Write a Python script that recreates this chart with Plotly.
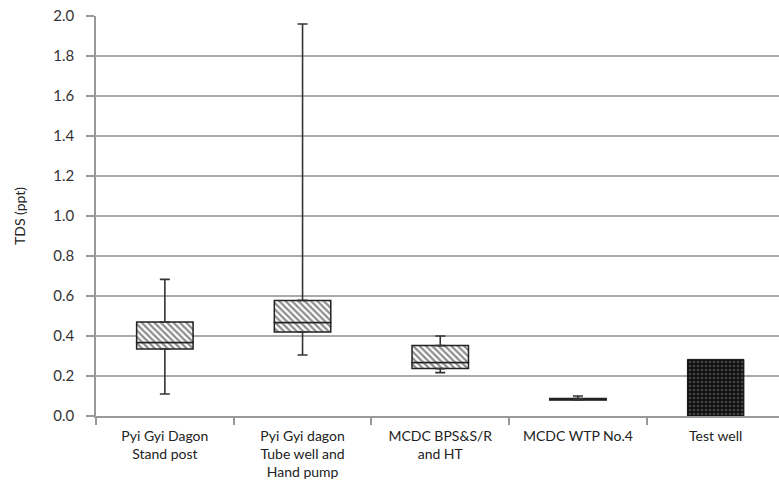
import plotly.graph_objects as go

# Sampling sites (x categories)
sites = [
    "Pyi Gyi Dagon<br>Stand post",
    "Pyi Gyi dagon<br>Tube well and<br>Hand pump",
    "MCDC BPS&S/R<br>and HT",
    "MCDC WTP No.4",
    "Test well",
]

# TDS (ppt) box statistics for the first four sites
box_sites = sites[:4]
tds_min = [0.11, 0.305, 0.217, 0.080]
tds_q1 = [0.335, 0.420, 0.237, 0.080]
tds_median = [0.367, 0.468, 0.267, 0.083]
tds_q3 = [0.470, 0.578, 0.352, 0.087]
tds_max = [0.683, 1.960, 0.400, 0.100]

# Single measurement at the test well
test_site = [sites[4]]
test_tds = [0.283]

hatch = dict(shape="\\", bgcolor="white", fgcolor="#1a1a1a", size=4.5, solidity=0.5)
outline = dict(color="#222", width=1.5)

fig = go.Figure()

# Lower box segment: Q1 -> median
fig.add_bar(
    x=box_sites,
    base=tds_q1,
    y=[m - q for m, q in zip(tds_median, tds_q1)],
    width=0.41,
    marker=dict(color="white", pattern=hatch, line=outline),
    showlegend=False,
)
# Upper box segment: median -> Q3
fig.add_bar(
    x=box_sites,
    base=tds_median,
    y=[q - m for q, m in zip(tds_q3, tds_median)],
    width=0.41,
    marker=dict(color="white", pattern=hatch, line=outline),
    showlegend=False,
)
# Test well column
fig.add_bar(
    x=test_site,
    y=test_tds,
    width=0.41,
    marker=dict(
        color="#111",
        pattern=dict(shape=".", bgcolor="#111", fgcolor="#777", size=4, solidity=0.35),
        line=dict(color="#111", width=1),
    ),
    showlegend=False,
)

# Whiskers: Q3 -> max
fig.add_scatter(
    x=box_sites,
    y=tds_q3,
    mode="markers",
    marker=dict(size=1, color="rgba(0,0,0,0)"),
    error_y=dict(
        type="data", symmetric=False,
        array=[mx - q for mx, q in zip(tds_max, tds_q3)],
        arrayminus=[0] * 4,
        color="#333", thickness=1.6, width=5,
    ),
    showlegend=False,
    hoverinfo="skip",
)
# Whiskers: min -> Q1
fig.add_scatter(
    x=box_sites,
    y=tds_q1,
    mode="markers",
    marker=dict(size=1, color="rgba(0,0,0,0)"),
    error_y=dict(
        type="data", symmetric=False,
        array=[0] * 4,
        arrayminus=[q - mn for q, mn in zip(tds_q1, tds_min)],
        color="#333", thickness=1.6, width=5,
    ),
    showlegend=False,
    hoverinfo="skip",
)

font_family = "Lato, 'Open Sans', sans-serif"

fig.update_layout(
    width=779,
    height=501,
    margin=dict(l=96, r=0, t=16, b=85),
    paper_bgcolor="white",
    plot_bgcolor="white",
    barmode="overlay",
    font=dict(family=font_family, size=14, color="#222"),
)

fig.update_xaxes(
    type="category",
    categoryorder="array",
    categoryarray=sites,
    range=[-0.5, 4.46],
    tickson="boundaries",
    ticks="outside",
    ticklen=7,
    tickcolor="#999",
    tickwidth=1.5,
    ticklabelstandoff=6,
    showline=True,
    linecolor="#999",
    linewidth=1.5,
    showgrid=False,
    tickfont=dict(size=14, color="#222"),
    fixedrange=True,
)

fig.update_yaxes(
    range=[0, 2.0],
    dtick=0.2,
    tickformat=".1f",
    ticks="outside",
    ticklen=8,
    tickcolor="#999",
    tickwidth=1.5,
    ticklabelstandoff=9,
    showline=True,
    linecolor="#999",
    linewidth=1.5,
    showgrid=True,
    gridcolor="#aaa",
    gridwidth=1.5,
    zeroline=False,
    title=dict(text="TDS (ppt)", font=dict(size=14, color="#222"), standoff=24),
    tickfont=dict(size=15, color="#333"),
    fixedrange=True,
)

fig.write_html("out.html")
